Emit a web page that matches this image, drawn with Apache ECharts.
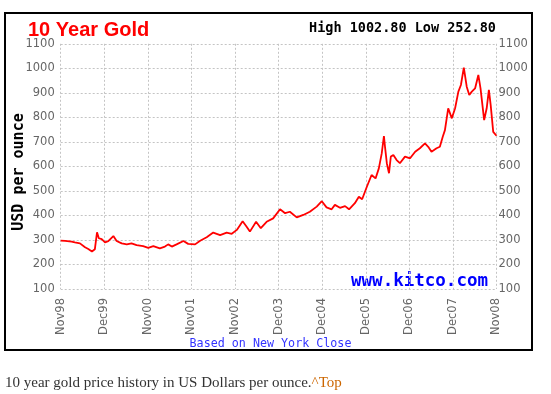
<!DOCTYPE html>
<html><head><meta charset="utf-8">
<script src="https://cdn.jsdelivr.net/npm/echarts@6/dist/echarts.min.js"></script>
<style>html,body{margin:0;padding:0;background:#fff}#c{width:551px;height:394px}</style>
</head><body><div id="c"></div>
<script>
// months since Nov 1998
const months = [0,1.2,3.0,3.9,5.3,6.7,7.6,8.6,9.4,9.6,10.0,10.5,11.3,12.2,13.1,14.5,15.4,16.8,18.2,19.5,20.9,22.7,24.1,25.5,27.3,28.7,29.6,30.6,31.9,33.8,35.1,37.0,38.4,40.2,42.0,43.9,45.7,47.1,48.5,50.1,51.2,52.1,53.8,55.1,56.7,58.5,60.4,61.8,63.1,65.0,66.8,68.6,70.5,71.9,73.2,74.6,75.5,76.9,78.3,79.4,81.0,82.1,83.0,84.3,85.6,86.7,87.6,88.4,89.0,89.3,89.8,90.4,90.9,91.6,92.5,93.4,94.8,96.2,97.6,98.9,100.3,101.2,102.1,103.5,104.4,105.2,105.8,106.7,107.7,108.6,109.5,110.2,111.0,111.8,112.5,113.2,114.1,115.0,115.6,116.6,117.3,117.9,118.4,119.1,120];
// gold price, USD per ounce
const prices = [297,296,293,290,286,270,263,253,262,268,331,307,303,290,295,316,296,286,282,286,279,275,268,275,266,273,282,273,282,296,284,282,297,311,330,320,330,325,341,376,354,334,374,348,374,388,425,409,415,392,402,415,436,458,433,425,443,431,438,425,450,476,466,517,565,551,592,653,724,680,613,572,640,646,626,613,640,633,660,674,694,680,660,674,680,721,748,837,796,837,905,932,1003,925,891,905,918,973,918,789,837,912,850,741,725];
const xTickLabels = ['Nov98','Dec99','Nov00','Nov01','Nov02','Dec03','Dec04','Dec05','Dec06','Dec07','Nov08'];
const yTicks = [100,200,300,400,500,600,700,800,900,1000,1100];

const chart = echarts.init(document.getElementById('c'), null, {renderer:'canvas'});
const axisFont = {color:'#666', fontFamily:'DejaVu Sans', fontSize:11.5};
const split = {show:true, lineStyle:{color:'#c4c4c4', type:[2,2], width:1}};
const yAx = (pos, margin) => ({
  type:'value', position:pos, min:yTicks[0], max:yTicks[yTicks.length-1], interval:100,
  axisLine:{show:false}, axisTick:{show:false}, splitLine:split,
  axisLabel:Object.assign({margin:margin, formatter:v=>String(v)}, axisFont)
});
chart.setOption({
  animation:false,
  backgroundColor:'#fff',
  grid:{left:60.7, right:54.5, top:43.8, bottom:105, containLabel:false},
  xAxis:{type:'value', min:0, max:120, interval:12,
    axisLine:{show:false}, axisTick:{show:false}, splitLine:split,
    axisLabel:Object.assign({rotate:90, margin:9, formatter:v=>xTickLabels[Math.round(v/12)]||''}, axisFont)},
  yAxis:[yAx('left',6), Object.assign(yAx('right',2),{splitLine:{show:false}})],
  series:[{type:'line', showSymbol:false, data:months.map((m,i)=>[m,prices[i]]),
    lineStyle:{color:'#ff0000', width:1.8}, itemStyle:{color:'#ff0000'}}],
  graphic:[
    {type:'rect', shape:{x:5,y:13,width:527,height:337}, style:{fill:null, stroke:'#000', lineWidth:2}, silent:true},
    {type:'text', x:28, y:30, style:{text:'10 Year Gold', fill:'#ff0000', font:'bold 20px "Liberation Sans", Arial', verticalAlign:'middle', align:'left'}},
    {type:'text', x:496, y:28, style:{text:'High 1002.80 Low 252.80', fill:'#000', font:'bold 13.5px "DejaVu Sans Mono"', verticalAlign:'middle', align:'right'}},
    {type:'text', x:488, y:281.5, style:{text:'www.kitco.com', fill:'#0000ff', font:'bold 17.5px "DejaVu Sans Mono"', verticalAlign:'middle', align:'right'}},
    {type:'text', x:270.5, y:343.5, style:{text:'Based on New York Close', fill:'#3333ff', font:'11.7px "DejaVu Sans Mono"', verticalAlign:'middle', align:'center'}},
    {type:'text', x:19, y:172, rotation:Math.PI/2, style:{text:'USD per ounce', fill:'#000', font:'bold 15px "DejaVu Sans Mono"', verticalAlign:'middle', align:'center'}},
    {type:'text', x:5, y:383, style:{text:'{a|10 year gold price history in US Dollars per ounce.}{b|^Top}', verticalAlign:'middle', align:'left',
      rich:{a:{fill:'#333', font:'15px "Liberation Serif", serif'}, b:{fill:'#cc6600', font:'15px "Liberation Serif", serif'}}}}
  ]
});
</script></body></html>
